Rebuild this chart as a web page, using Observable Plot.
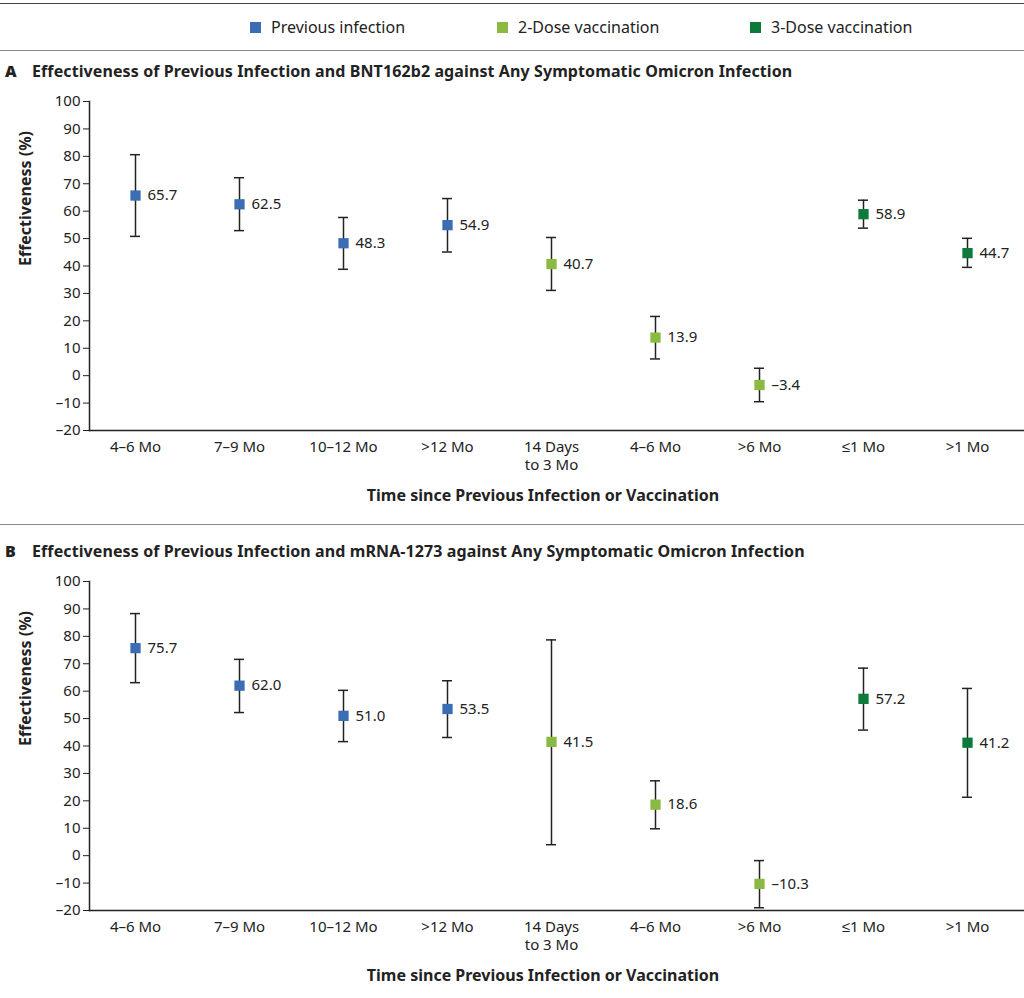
<!DOCTYPE html>
<html><head><meta charset="utf-8">
<script src="https://cdn.jsdelivr.net/npm/d3@7"></script>
<script src="https://cdn.jsdelivr.net/npm/@observablehq/plot@0.6"></script>
<style>
body{margin:0;background:#fff;font-family:"Noto Sans",sans-serif;color:#222;width:1024px;}
.legend{position:absolute;top:3px;left:0;width:1024px;height:46px;border-top:1.5px solid #444;border-bottom:1px solid #888;}
.li{position:absolute;top:12px;font-size:16px;display:flex;align-items:center;}
.sw{width:11px;height:11px;display:inline-block;margin-right:10px;}
.title{position:absolute;left:5px;font-size:16px;font-weight:bold;letter-spacing:0.1px;}
.title b{display:inline-block;width:27px;}
.sep{position:absolute;left:0;width:1024px;top:524px;border-top:1px solid #888;}
.panel{position:absolute;left:0;}
</style></head><body>
<div class="legend">
 <div class="li" style="left:250px"><span class="sw" style="background:#3b6db4"></span>Previous infection</div>
 <div class="li" style="left:497px"><span class="sw" style="background:#8bba43"></span>2-Dose vaccination</div>
 <div class="li" style="left:750px"><span class="sw" style="background:#0b7a3b"></span>3-Dose vaccination</div>
</div>
<div class="title" style="top:60px"><b>A</b>Effectiveness of Previous Infection and BNT162b2 against Any Symptomatic Omicron Infection</div>
<div class="panel" id="pa" style="top:85px"></div>
<div class="sep"></div>
<div class="title" style="top:540px"><b>B</b>Effectiveness of Previous Infection and mRNA-1273 against Any Symptomatic Omicron Infection</div>
<div class="panel" id="pb" style="top:565px"></div>
<script>
const categories = ["inf4-6","inf7-9","inf10-12","inf>12","v2-14d","v2-4-6","v2->6","v3-le1","v3->1"];
const tickLabels = ["4–6 Mo","7–9 Mo","10–12 Mo",">12 Mo","14 Days\nto 3 Mo","4–6 Mo",">6 Mo","≤1 Mo",">1 Mo"];
const groups = ["Previous infection","Previous infection","Previous infection","Previous infection","2-Dose vaccination","2-Dose vaccination","2-Dose vaccination","3-Dose vaccination","3-Dose vaccination"];
const aValue = [65.7,62.5,48.3,54.9,40.7,13.9,-3.4,58.9,44.7];
const aLow   = [50.8,52.9,38.8,45.1,31.1,6.1,-9.5,53.8,39.5];
const aHigh  = [80.6,72.2,57.7,64.6,50.4,21.6,2.7,64.0,50.1];
const bValue = [75.7,62.0,51.0,53.5,41.5,18.6,-10.3,57.2,41.2];
const bLow   = [63.1,52.2,41.6,43.1,4.0,9.8,-19.0,45.8,21.3];
const bHigh  = [88.3,71.6,60.3,63.8,78.7,27.3,-1.8,68.4,61.0];
const yTicks = [100,90,80,70,60,50,40,30,20,10,0,-10,-20];
const groupNames = ["Previous infection","2-Dose vaccination","3-Dose vaccination"];
const groupColors = ["#3b6db4","#8bba43","#0b7a3b"];
const fmt = d => d < 0 ? "–" + Math.abs(d).toFixed(1) : d.toFixed(1);
const tfmt = d => d < 0 ? "–" + Math.abs(d) : String(d);

function panel(vals, lows, highs){
  const data = categories.map((c,i)=>({c, g:groups[i], v:vals[i], lo:lows[i], hi:highs[i]}));
  return Plot.plot({
    width:1024, height:430, marginLeft:89, marginRight:0, marginTop:16, marginBottom:85,
    style:{fontFamily:"Noto Sans, sans-serif", fontSize:"15px", color:"#222", background:"#fff"},
    x:{domain:categories, range:[82,1020], padding:0},
    y:{domain:[-20,100]},
    color:{domain:groupNames, range:groupColors},
    marks:[
      Plot.axisX({tickSize:0, tickPadding:9, label:null, fontSize:15, lineHeight:1.2,
        tickFormat:d=>tickLabels[categories.indexOf(d)]}),
      Plot.axisY({ticks:yTicks, tickFormat:tfmt, label:null, tickSize:6, fontSize:15}),
      Plot.frame({anchor:"left", stroke:"#222", strokeWidth:1.5}),
      Plot.frame({anchor:"bottom", stroke:"#222", strokeWidth:1.5}),
      Plot.ruleX(data,{x:"c", y1:"lo", y2:"hi", stroke:"#222", strokeWidth:1.5}),
      Plot.tickY(data,{x:"c", y:"lo", insetLeft:47, insetRight:47, stroke:"#222", strokeWidth:1.5}),
      Plot.tickY(data,{x:"c", y:"hi", insetLeft:47, insetRight:47, stroke:"#222", strokeWidth:1.5}),
      Plot.dot(data,{x:"c", y:"v", symbol:"square", r:5.8, fill:"g", stroke:"none"}),
      Plot.text(data,{x:"c", y:"v", text:d=>fmt(d.v), dx:12, textAnchor:"start", fontSize:15, fill:"#222"}),
      Plot.text(["Effectiveness (%)"],{frameAnchor:"left", dx:-64, rotate:-90, fontWeight:"bold", fontSize:16, fill:"#222"}),
      Plot.text(["Time since Previous Infection or Vaccination"],{frameAnchor:"bottom", dy:70, dx:-14, fontWeight:"bold", fontSize:16, fill:"#222"})
    ]
  });
}
document.getElementById("pa").append(panel(aValue,aLow,aHigh));
document.getElementById("pb").append(panel(bValue,bLow,bHigh));
</script></body></html>
